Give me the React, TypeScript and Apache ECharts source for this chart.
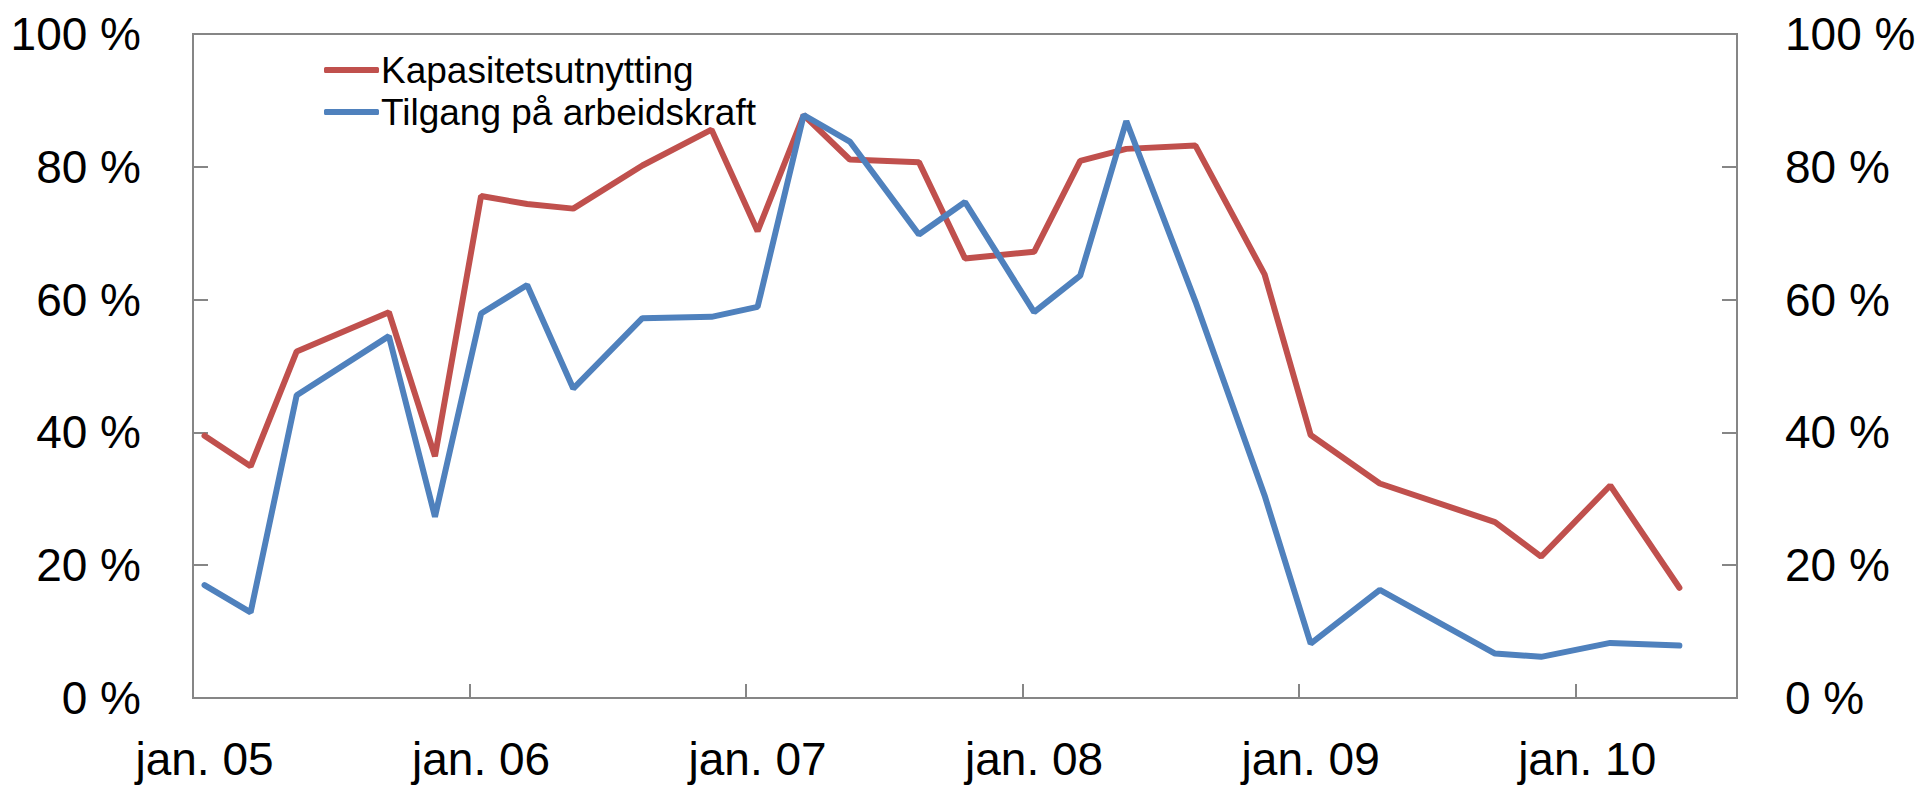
import React, { useEffect, useRef } from "react";
import * as echarts from "echarts";

const monthNames = ["jan", "feb", "mar", "apr", "mai", "jun", "jul", "aug", "sep", "okt", "nov", "des"];
const startYear = 2005;
const monthCount = 67;

const surveyDates = [
  "jan. 05", "mar. 05", "mai. 05", "sep. 05", "nov. 05",
  "jan. 06", "mar. 06", "mai. 06", "aug. 06", "nov. 06",
  "jan. 07", "mar. 07", "mai. 07", "aug. 07", "okt. 07",
  "jan. 08", "mar. 08", "mai. 08", "aug. 08", "nov. 08",
  "jan. 09", "apr. 09", "sep. 09", "nov. 09",
  "feb. 10", "mai. 10",
];

const kapasitetsutnytting = [
  39.5, 34.9, 52.2, 58.1, 36.4,
  75.6, 74.4, 73.7, 80.2, 85.6,
  70.3, 87.8, 81.1, 80.7, 66.2,
  67.2, 80.9, 82.7, 83.2, 63.8,
  39.6, 32.3, 26.5, 21.3,
  32.0, 16.6,
];

const tilgangArbeidskraft = [
  17.0, 12.9, 45.6, 54.5, 27.3,
  57.9, 62.2, 46.6, 57.2, 57.4,
  58.9, 87.8, 83.8, 69.8, 74.7,
  58.1, 63.6, 86.9, 59.7, 30.5,
  8.2, 16.3, 6.7, 6.2,
  8.3, 7.9,
];

const seriesNames = ["Kapasitetsutnytting", "Tilgang på arbeidskraft"];
const seriesColors = ["#C0504D", "#4F81BD"];
const yMin = 0;
const yMax = 100;
const yStep = 20;

const FONT = "'Liberation Sans', Arial, Helvetica, sans-serif";
const AXIS_COLOR = "#868686";

export default function App() {
  const ref = useRef<HTMLDivElement>(null);

  useEffect(() => {
    if (!ref.current) return;
    const chart = echarts.init(ref.current, null, { renderer: "svg" });

    const categories = Array.from({ length: monthCount }, (_, i) => {
      const yy = String((startYear + Math.floor(i / 12)) % 100).padStart(2, "0");
      return `${monthNames[i % 12]}. ${yy}`;
    });

    const makeY = (position: "left" | "right", margin: number) => ({
      type: "value",
      position,
      min: yMin,
      max: yMax,
      interval: yStep,
      splitLine: { show: false },
      axisLine: { show: true, lineStyle: { color: AXIS_COLOR, width: 2 } },
      axisTick: { show: true, inside: true, length: 15, lineStyle: { color: AXIS_COLOR, width: 2 } },
      axisLabel: {
        formatter: "{value} %",
        fontSize: 46,
        color: "#000",
        fontFamily: FONT,
        margin,
      },
    });

    chart.setOption({
      animation: false,
      backgroundColor: "#fff",
      grid: {
        left: 193,
        right: 188,
        top: 34,
        bottom: 87,
        show: true,
        borderColor: AXIS_COLOR,
        borderWidth: 2,
        backgroundColor: "transparent",
      },
      legend: {
        orient: "vertical",
        left: 319,
        top: 46,
        icon: "roundRect",
        itemWidth: 55,
        itemHeight: 6,
        itemGap: 4,
        textStyle: { fontSize: 37, color: "#000", fontFamily: FONT, lineHeight: 38, padding: [0, 0, 0, -3] },
        data: seriesNames,
      },
      xAxis: {
        type: "category",
        data: categories,
        boundaryGap: true,
        axisLine: { show: true, lineStyle: { color: AXIS_COLOR, width: 2 } },
        axisTick: {
          show: true,
          inside: true,
          interval: 11,
          length: 14,
          lineStyle: { color: AXIS_COLOR, width: 2 },
        },
        axisLabel: {
          interval: 11,
          fontSize: 46,
          color: "#000",
          fontFamily: FONT,
          margin: 38,
        },
        splitLine: { show: false },
      },
      yAxis: [makeY("left", 52), makeY("right", 48)],
      series: [
        {
          name: seriesNames[0],
          type: "line",
          yAxisIndex: 0,
          symbol: "none",
          color: seriesColors[0],
          lineStyle: { width: 6, color: seriesColors[0], cap: "round" },
          data: surveyDates.map((d, i) => [d, kapasitetsutnytting[i]]),
        },
        {
          name: seriesNames[1],
          type: "line",
          yAxisIndex: 0,
          symbol: "none",
          color: seriesColors[1],
          lineStyle: { width: 6, color: seriesColors[1], cap: "round" },
          data: surveyDates.map((d, i) => [d, tilgangArbeidskraft[i]]),
        },
      ],
    });

    return () => chart.dispose();
  }, []);

  return (
    <div
      ref={ref}
      style={{ position: "absolute", left: 0, top: 0, width: 1925, height: 785 }}
    />
  );
}
